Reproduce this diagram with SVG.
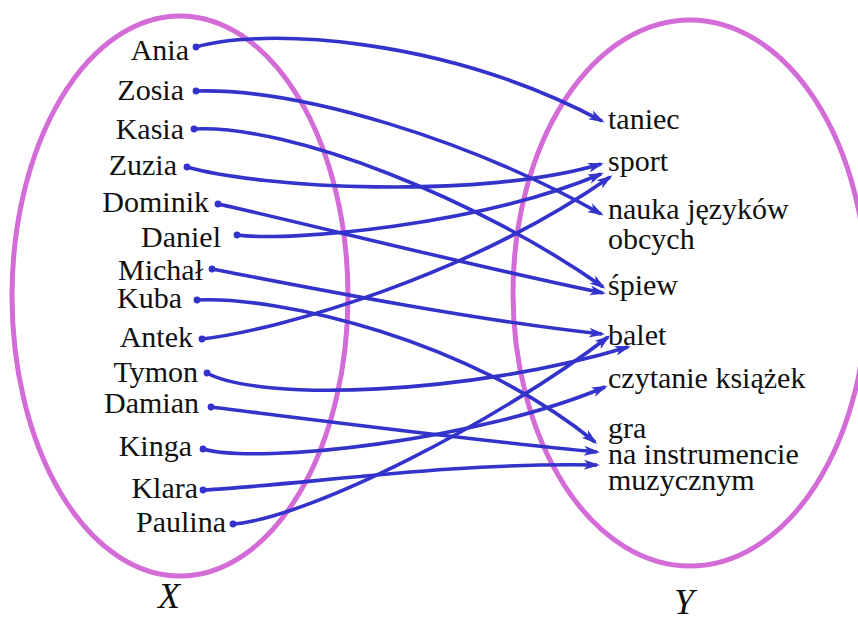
<svg xmlns="http://www.w3.org/2000/svg" width="858" height="619" viewBox="0 0 858 619">
<style>
.set{fill:none;stroke:#d46cd8;stroke-width:5}
.lbl{font-size:30px;fill:#111}
.l{text-anchor:end}
.var{font-size:36px;font-style:italic;fill:#111}
.e path{fill:none;stroke:#3333cc;stroke-width:3.6;marker-end:url(#ah)}
.dot{fill:#3333cc}
</style>
<defs>
<marker id="ah" markerUnits="userSpaceOnUse" markerWidth="18" markerHeight="12" refX="13" refY="5" orient="auto" overflow="visible">
<path d="M0,0 L16,5 L0,10 L4,5 Z" fill="#3333cc"/>
</marker>
</defs>
<rect width="858" height="619" fill="#fff"/>
<g font-family="Liberation Serif, Times New Roman, DejaVu Serif, serif">
<g id="setX"><ellipse class="set" cx="180" cy="296" rx="168" ry="280"/><text class="var" x="169" y="608" text-anchor="middle">X</text></g>
<g id="setY"><ellipse class="set" cx="690" cy="293" rx="177" ry="273"/><text class="var" x="684" y="614" text-anchor="middle">Y</text></g>

<g id="Ania"><text class="lbl l" x="189" y="60">Ania</text><circle class="dot" cx="196" cy="47" r="3.4"/></g>
<g id="Zosia"><text class="lbl l" x="184" y="100">Zosia</text><circle class="dot" cx="196" cy="91" r="3.4"/></g>
<g id="Kasia"><text class="lbl l" x="184" y="139">Kasia</text><circle class="dot" cx="194" cy="129" r="3.4"/></g>
<g id="Zuzia"><text class="lbl l" x="177" y="175">Zuzia</text><circle class="dot" cx="187" cy="167" r="3.4"/></g>
<g id="Dominik"><text class="lbl l" x="209" y="212">Dominik</text><circle class="dot" cx="218" cy="204" r="3.4"/></g>
<g id="Daniel"><text class="lbl l" x="221" y="247">Daniel</text><circle class="dot" cx="237" cy="235" r="3.4"/></g>
<g id="Michal"><text class="lbl l" x="203" y="280">Michał</text><circle class="dot" cx="212" cy="269" r="3.4"/></g>
<g id="Kuba"><text class="lbl l" x="182" y="308">Kuba</text><circle class="dot" cx="197" cy="300" r="3.4"/></g>
<g id="Antek"><text class="lbl l" x="193" y="347">Antek</text><circle class="dot" cx="202" cy="339" r="3.4"/></g>
<g id="Tymon"><text class="lbl l" x="198" y="382">Tymon</text><circle class="dot" cx="207" cy="373" r="3.4"/></g>
<g id="Damian"><text class="lbl l" x="199" y="413">Damian</text><circle class="dot" cx="211" cy="407" r="3.4"/></g>
<g id="Kinga"><text class="lbl l" x="192" y="456">Kinga</text><circle class="dot" cx="203" cy="449" r="3.4"/></g>
<g id="Klara"><text class="lbl l" x="198" y="498">Klara</text><circle class="dot" cx="203" cy="490" r="3.4"/></g>
<g id="Paulina"><text class="lbl l" x="226" y="532">Paulina</text><circle class="dot" cx="233" cy="524" r="3.4"/></g>

<g id="taniec"><text class="lbl" x="608" y="129">taniec</text></g>
<g id="sport"><text class="lbl" x="608" y="171">sport</text></g>
<g id="nauka"><text class="lbl" x="608" y="219">nauka języków</text><text class="lbl" x="608" y="249">obcych</text></g>
<g id="spiew"><text class="lbl" x="608" y="295">śpiew</text></g>
<g id="balet"><text class="lbl" x="608" y="345">balet</text></g>
<g id="czytanie"><text class="lbl" x="608" y="388">czytanie książek</text></g>
<g id="gra"><text class="lbl" x="608" y="438">gra</text><text class="lbl" x="608" y="464">na instrumencie</text><text class="lbl" x="608" y="490">muzycznym</text></g>
</g>

<g id="connectors" class="e">
<path d="M196,47 C260,28 440,35 602,121"/>
<path d="M196,91 C300,88 470,140 601,214"/>
<path d="M194,129 C290,124 480,200 603,287"/>
<path d="M187,167 C260,188 480,200 601,164"/>
<path d="M218,204 C300,222 480,268 603,293"/>
<path d="M237,235 C290,242 480,225 601,174"/>
<path d="M212,269 C290,284 470,320 602,334"/>
<path d="M197,300 C280,296 470,340 595,442"/>
<path d="M202,339 C280,330 470,275 610,177"/>
<path d="M207,373 C260,402 470,395 628,347"/>
<path d="M211,407 C300,418 470,440 597,452"/>
<path d="M203,449 C260,465 480,440 605,387"/>
<path d="M203,490 C300,485 450,462 597,465"/>
<path d="M233,524 C310,518 500,420 608,337"/>
</g>
</svg>
